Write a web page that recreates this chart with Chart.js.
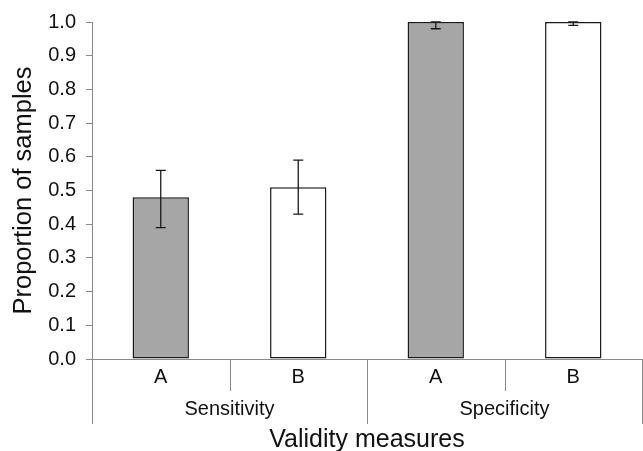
<!DOCTYPE html>
<html>
<head>
<meta charset="UTF-8" />
<script src="https://cdn.jsdelivr.net/npm/chart.js@4.4.1/dist/chart.umd.min.js"></script>
<style>
  html, body { margin: 0; padding: 0; background: #fff; }
  #wrap { width: 643px; height: 451px; position: relative; }
</style>
</head>
<body>
<div id="wrap"><canvas id="c"></canvas></div>
<script>
// 兩組效度指標，各自 A / B 兩個方法
const groups = ["Sensitivity", "Specificity"];
const methods = ["A", "B", "A", "B"];
const values = [0.48, 0.51, 1.0, 1.0];
const errLow = [0.39, 0.43, 0.98, 0.99];
const errHigh = [0.56, 0.59, 1.0, 1.0];
const fills = ["#a6a6a6", "#ffffff", "#a6a6a6", "#ffffff"];
const yTicks = [0, 0.1, 0.2, 0.3, 0.4, 0.5, 0.6, 0.7, 0.8, 0.9, 1.0];

const FONT = "'Liberation Sans', Arial, Helvetica, sans-serif";
const axisGray = "#8a8a8a";

// 誤差線
const errorBars = {
  id: "errorBars",
  afterDatasetsDraw(chart) {
    const { ctx } = chart;
    const x = chart.scales.x, y = chart.scales.y;
    ctx.save();
    ctx.strokeStyle = "#1a1a1a";
    ctx.lineWidth = 1.3;
    values.forEach((v, i) => {
      const px = x.getPixelForValue(i);
      const lo = y.getPixelForValue(errLow[i]);
      const hi = y.getPixelForValue(errHigh[i]);
      ctx.beginPath();
      ctx.moveTo(px, lo); ctx.lineTo(px, hi);
      ctx.moveTo(px - 5, lo); ctx.lineTo(px + 5, lo);
      ctx.moveTo(px - 5, hi); ctx.lineTo(px + 5, hi);
      ctx.stroke();
    });
    ctx.restore();
  }
};

// 兩層 X 軸：方法 + 指標分組
const groupedAxis = {
  id: "groupedAxis",
  afterDraw(chart) {
    const { ctx, chartArea } = chart;
    const x = chart.scales.x;
    const y0 = chartArea.bottom;
    const step = x.getPixelForValue(1) - x.getPixelForValue(0);
    const edge = (i) => x.getPixelForValue(i) - step / 2;
    ctx.save();
    ctx.strokeStyle = axisGray;
    ctx.lineWidth = 1;
    ctx.beginPath();
    ctx.moveTo(chartArea.left, y0 + 0.5);
    ctx.lineTo(chartArea.right, y0 + 0.5);
    for (let i = 0; i <= methods.length; i++) {
      const px = Math.round(edge(i)) + 0.5;
      const long = i % 2 === 0;
      ctx.moveTo(px, y0);
      ctx.lineTo(px, long ? y0 + 65 : y0 + 32);
    }
    ctx.stroke();

    ctx.fillStyle = "#111";
    ctx.textAlign = "center";
    ctx.textBaseline = "alphabetic";
    ctx.font = "20px " + FONT;
    methods.forEach((m, i) => ctx.fillText(m, x.getPixelForValue(i), y0 + 24));
    groups.forEach((g, gi) => {
      const cx = (edge(gi * 2) + edge(gi * 2 + 2)) / 2;
      ctx.fillText(g, cx, y0 + 56);
    });
    ctx.font = "25px " + FONT;
    ctx.fillText("Validity measures", (chartArea.left + chartArea.right) / 2, y0 + 88);
    ctx.restore();
  }
};

new Chart(document.getElementById("c"), {
  type: "bar",
  data: {
    labels: methods,
    datasets: [{
      data: values,
      backgroundColor: fills,
      borderColor: "#1a1a1a",
      borderWidth: 1.5,
      borderSkipped: false,
      categoryPercentage: 1,
      barPercentage: 0.41,
      clip: false
    }]
  },
  options: {
    responsive: true,
    maintainAspectRatio: false,
    animation: false,
    layout: { padding: { top: 19, bottom: 92, right: 1, left: 0 } },
    plugins: { legend: { display: false }, tooltip: { enabled: false } },
    scales: {
      x: { display: false },
      y: {
        min: 0, max: 1,
        afterFit(s) { s.width = 92; },
        afterBuildTicks(s) { s.ticks = yTicks.map((v) => ({ value: v })); },
        ticks: {
          callback: (v) => Number(v).toFixed(1),
          font: { size: 20, family: FONT },
          color: "#111",
          padding: 10
        },
        grid: { drawOnChartArea: false, tickLength: 6, color: axisGray },
        border: { color: axisGray },
        title: {
          display: true,
          text: "Proportion of samples",
          font: { size: 25.5, family: FONT },
          color: "#111",
          padding: { top: 9, bottom: 0 }
        }
      }
    }
  },
  plugins: [errorBars, groupedAxis]
});
</script>
</body>
</html>
